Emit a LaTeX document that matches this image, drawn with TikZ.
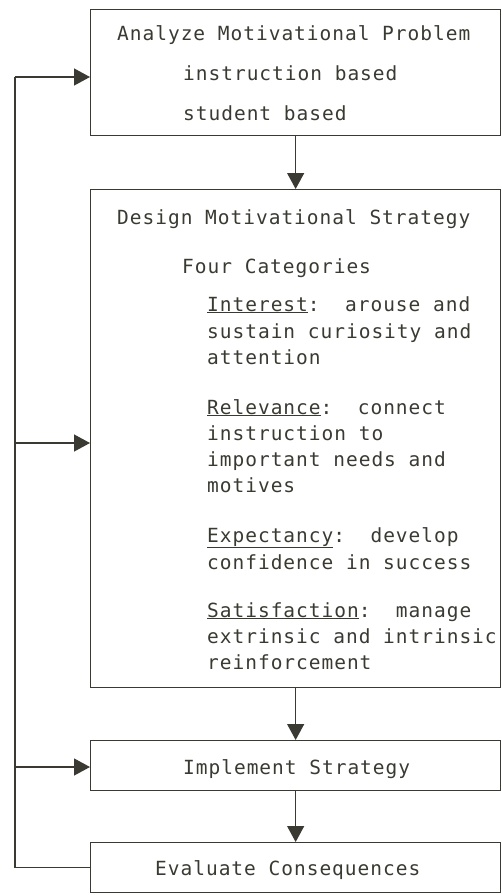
\documentclass[tikz,border=0pt]{standalone}
\usepackage{fontspec}
\setmonofont[LetterSpace=5]{DejaVu Sans Mono}
\usetikzlibrary{arrows.meta,positioning}

\definecolor{ink}{HTML}{3A3A33}

\begin{document}
\begin{tikzpicture}[x=1pt,y=-1pt,
  box/.style={rectangle,draw=ink,line width=1.3pt,anchor=north west,inner sep=0pt,minimum width=410pt},
  txt/.style={anchor=base west,inner sep=0pt,text=ink,font=\ttfamily\fontsize{19.5}{26}\selectfont},
  flow/.style={draw=ink,line width=1.3pt,-{Triangle[width=17pt,length=16pt]}},
  rail/.style={draw=ink,line width=1.3pt}]
\useasboundingbox (0,0) rectangle (502,895);

% Boxes
\node[box,minimum height=126pt] (analyze) at (90,9) {};
\node[box,minimum height=498pt] (design) at (90,189) {};
\node[box,minimum height=50pt] (implement) at (90,740) {};
\node[box,minimum height=50pt] (evaluate) at (90,842) {};

% Analyze
\node[txt] (a1) at (117,40) {Analyze Motivational Problem};
\node[txt] (a2) at (183,80) {instruction based};
\node[txt] (a3) at (183,120) {student based};

% Design
\node[txt] (d1) at (117,224) {Design Motivational Strategy};
\node[txt] (d2) at (182,273) {Four Categories};
\node[txt] (int1) at (207,311) {\underline{Interest}:~ arouse and};
\node[txt] (int2) at (207,338) {sustain curiosity and};
\node[txt] (int3) at (207,364) {attention};
\node[txt] (rel1) at (207,414) {\underline{Relevance}:~ connect};
\node[txt] (rel2) at (207,440) {instruction to};
\node[txt] (rel3) at (207,466) {important needs and};
\node[txt] (rel4) at (207,492) {motives};
\node[txt] (exp1) at (207,542) {\underline{Expectancy}:~ develop};
\node[txt] (exp2) at (207,569) {confidence in success};
\node[txt] (sat1) at (207,617) {\underline{Satisfaction}:~ manage};
\node[txt] (sat2) at (207,643) {extrinsic and intrinsic};
\node[txt] (sat3) at (207,669) {reinforcement};

% Implement, Evaluate
\node[txt] (i1) at (183,774) {Implement Strategy};
\node[txt] (e1) at (155,875) {Evaluate Consequences};

% Main flow
\draw[flow] (analyze) -- (design);
\draw[flow] (design) -- (implement);
\draw[flow] (implement) -- (evaluate);

% Feedback rail
\coordinate (r1) at (15,77);
\coordinate (r2) at (15,443);
\coordinate (r3) at (15,767);
\draw[rail] (evaluate.west) -| (r1);
\draw[flow] (r1) -- (r1 -| analyze.west);
\draw[flow] (r2) -- (r2 -| design.west);
\draw[flow] (r3) -- (r3 -| implement.west);
\end{tikzpicture}
\end{document}
